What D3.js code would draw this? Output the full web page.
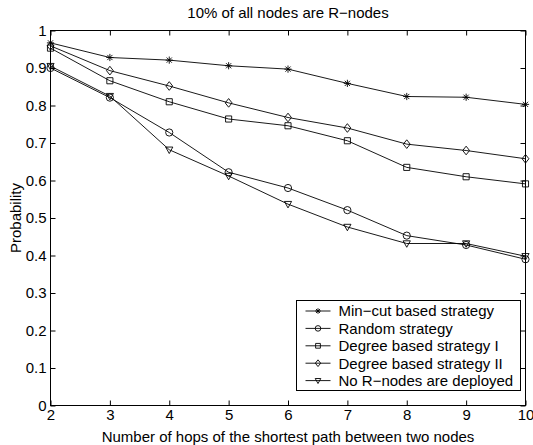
<!DOCTYPE html>
<html lang="en">
<head>
  <meta charset="UTF-8">
  <title>10% of all nodes are R-nodes</title>
  <script src="https://d3js.org/d3.v7.min.js"></script>
  <style>
    body { margin: 0; background: #fff; }
    svg text { font-family: "Liberation Sans", Arial, Helvetica, sans-serif; fill: #000; }
  </style>
</head>
<body>

<div id="chart"></div>

<script>
  // values
  const hops = [2, 3, 4, 5, 6, 7, 8, 9, 10];
  const minCut     = [0.967, 0.928, 0.921, 0.906, 0.897, 0.859, 0.824, 0.822, 0.803];
  const randomStr  = [0.900, 0.821, 0.728, 0.622, 0.580, 0.521, 0.453, 0.428, 0.390];
  const degreeI    = [0.953, 0.866, 0.810, 0.764, 0.746, 0.706, 0.635, 0.610, 0.591];
  const degreeII   = [0.959, 0.893, 0.852, 0.807, 0.768, 0.740, 0.697, 0.680, 0.658];
  const noRnodes   = [0.905, 0.825, 0.682, 0.612, 0.537, 0.476, 0.432, 0.432, 0.398];

  const seriesNames = ["Min\u2212cut based strategy", "Random strategy", "Degree based strategy I",
                       "Degree based strategy II", "No R\u2212nodes are deployed"];
  const seriesMarkers = ["star", "circle", "square", "diamond", "triangle"];
  const seriesValues = [minCut, randomStr, degreeI, degreeII, noRnodes];

  const yTicks = [0, 0.1, 0.2, 0.3, 0.4, 0.5, 0.6, 0.7, 0.8, 0.9, 1];
  const yTickLabels = ["0", "0.1", "0.2", "0.3", "0.4", "0.5", "0.6", "0.7", "0.8", "0.9", "1"];

  const width = 533, height = 445;
  const margin = {top: 30.5, right: 7.5, bottom: 39.5, left: 50.5};

  const svg = d3.select("#chart").append("svg")
      .attr("width", width)
      .attr("height", height);

  const x = d3.scaleLinear().domain([2, 10]).range([margin.left, width - margin.right]);
  const y = d3.scaleLinear().domain([0, 1]).range([height - margin.bottom, margin.top]);

  // marker shapes (MATLAB style)
  function marker(type, s) {
    const p = d3.path();
    if (type === "star") {
      const d = s * 0.72;
      p.moveTo(-s, 0); p.lineTo(s, 0);
      p.moveTo(0, -s); p.lineTo(0, s);
      p.moveTo(-d, -d); p.lineTo(d, d);
      p.moveTo(-d, d); p.lineTo(d, -d);
    } else if (type === "circle") {
      p.arc(0, 0, s, 0, 2 * Math.PI);
    } else if (type === "square") {
      p.rect(-s * 0.85, -s * 0.85, s * 1.7, s * 1.7);
    } else if (type === "diamond") {
      p.moveTo(0, -s * 1.2); p.lineTo(s * 0.95, 0); p.lineTo(0, s * 1.2); p.lineTo(-s * 0.95, 0); p.closePath();
    } else if (type === "triangle") {
      p.moveTo(-s, -s * 0.75); p.lineTo(s, -s * 0.75); p.lineTo(0, s * 1.05); p.closePath();
    }
    return p.toString();
  }

  // axes box with inward ticks on all sides
  const xBottom = d3.axisBottom(x).tickValues(hops).tickSize(-5).tickPadding(4).tickFormat(d3.format("d"));
  const xTop = d3.axisTop(x).tickValues(hops).tickSize(-5).tickFormat("");
  const yLeft = d3.axisLeft(y).tickValues(yTicks).tickSize(-5).tickPadding(4)
      .tickFormat((d, i) => yTickLabels[i]);
  const yRight = d3.axisRight(y).tickValues(yTicks).tickSize(-5).tickFormat("");

  function styleAxis(g) {
    g.select(".domain").remove();
    g.selectAll(".tick line").attr("stroke", "#000").attr("stroke-width", 1);
    g.selectAll("text").style("font-size", "15px");
  }

  svg.append("g").attr("transform", `translate(0,${height - margin.bottom})`).call(xBottom).call(styleAxis);
  svg.append("g").attr("transform", `translate(0,${margin.top})`).call(xTop).call(styleAxis);
  svg.append("g").attr("transform", `translate(${margin.left},0)`).call(yLeft).call(styleAxis);
  svg.append("g").attr("transform", `translate(${width - margin.right},0)`).call(yRight).call(styleAxis);

  svg.append("rect")
      .attr("x", margin.left).attr("y", margin.top)
      .attr("width", width - margin.left - margin.right)
      .attr("height", height - margin.top - margin.bottom)
      .attr("fill", "none").attr("stroke", "#000").attr("stroke-width", 1);

  // series
  const line = d3.line().x((d, i) => x(hops[i])).y(d => y(d));

  seriesValues.forEach((vals, k) => {
    svg.append("path")
        .attr("d", line(vals))
        .attr("fill", "none")
        .attr("stroke", "#000")
        .attr("stroke-width", 0.9);
    svg.selectAll(".m" + k)
        .data(vals)
        .enter()
        .append("path")
        .attr("class", "m" + k)
        .attr("transform", (d, i) => `translate(${x(hops[i])},${y(d)})`)
        .attr("d", marker(seriesMarkers[k], 3.6))
        .attr("fill", "none")
        .attr("stroke", "#000")
        .attr("stroke-width", 0.9);
  });

  // title and axis labels
  svg.append("text")
      .attr("x", (margin.left + width - margin.right) / 2)
      .attr("y", 18)
      .attr("text-anchor", "middle")
      .style("font-size", "15px")
      .text("10% of all nodes are R\u2212nodes");

  svg.append("text")
      .attr("x", (margin.left + width - margin.right) / 2)
      .attr("y", 442)
      .attr("text-anchor", "middle")
      .style("font-size", "15px")
      .text("Number of hops of the shortest path between two nodes");

  svg.append("text")
      .attr("transform", `translate(21,${(margin.top + height - margin.bottom) / 2}) rotate(-90)`)
      .attr("text-anchor", "middle")
      .style("font-size", "15px")
      .text("Probability");

  // legend
  const legend = svg.append("g").attr("transform", "translate(296.5,300.5)");
  legend.append("rect")
      .attr("width", 224).attr("height", 90)
      .attr("fill", "#fff").attr("stroke", "#000").attr("stroke-width", 1);

  seriesNames.forEach((name, k) => {
    const row = legend.append("g").attr("transform", `translate(0,${10.5 + k * 17.4})`);
    row.append("line")
        .attr("x1", 9).attr("x2", 34)
        .attr("stroke", "#000").attr("stroke-width", 0.9);
    row.append("path")
        .attr("transform", "translate(21.5,0)")
        .attr("d", marker(seriesMarkers[k], 2.8))
        .attr("fill", "none").attr("stroke", "#000").attr("stroke-width", 0.9);
    row.append("text")
        .attr("x", 42).attr("dy", "0.36em")
        .style("font-size", "15px")
        .text(name);
  });
</script>

</body>
</html>
